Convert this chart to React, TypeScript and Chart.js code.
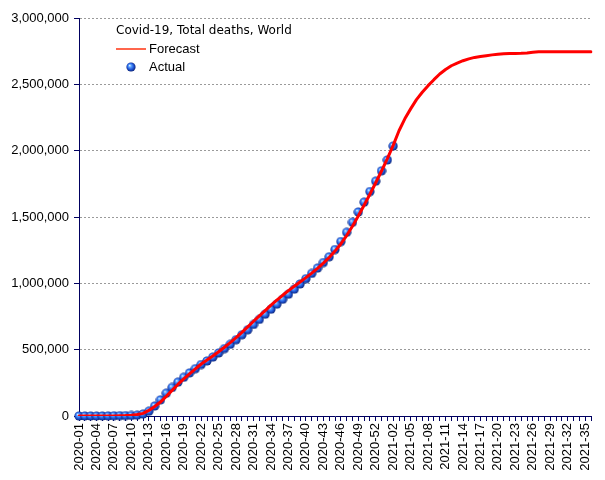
import { useEffect, useRef } from "react";
import { Chart, registerables } from "chart.js";

Chart.register(...registerables);

const TITLE = "Covid-19, Total deaths, World";
const FORECAST_LABEL = "Forecast";
const ACTUAL_LABEL = "Actual";

// ISO week categories: 2020-01 .. 2020-53, 2021-01 .. 2021-36
const weeks2020: number[] = Array.from({ length: 53 }, (_, i) => i + 1);
const weeks2021: number[] = Array.from({ length: 36 }, (_, i) => i + 1);
const pad2 = (n: number) => (n < 10 ? "0" + n : String(n));
const weekLabels: string[] = [
  ...weeks2020.map((w) => "2020-" + pad2(w)),
  ...weeks2021.map((w) => "2021-" + pad2(w)),
];

// Actual cumulative deaths (2020-01 .. 2021-02)
const actualDeaths: number[] = [
  0, 0, 0, 100, 400, 900, 1700, 2500, 3000, 3800,
  6500, 15000, 36000, 75000, 122000, 172000, 215000, 255000, 292000, 325000,
  357000, 388000, 415000, 444000, 475000, 508000, 540000, 575000, 612000, 650000,
  690000, 728000, 767000, 805000, 843000, 880000, 918000, 956000, 995000, 1035000,
  1075000, 1115000, 1157000, 1200000, 1255000, 1315000, 1385000, 1460000, 1538000, 1612000,
  1692000, 1770000, 1848000, 1930000, 2035000,
];

// Forecast cumulative deaths (2020-01 .. 2021-36)
const forecastDeaths: number[] = [
  0, 0, 0, 0, 0, 0, 500, 1500, 3000, 6000,
  11000, 20000, 42000, 72000, 105000, 148000, 193000, 238000, 280000, 318000,
  355000, 392000, 422000, 452000, 484000, 518000, 553000, 590000, 630000, 672000,
  714000, 755000, 795000, 835000, 873000, 910000, 945000, 978000, 1010000, 1043000,
  1077000, 1113000, 1152000, 1195000, 1243000, 1297000, 1360000, 1430000, 1507000, 1588000,
  1672000, 1758000, 1847000, 1940000, 2040000, 2150000, 2240000, 2315000, 2385000, 2440000,
  2490000, 2535000, 2578000, 2612000, 2640000, 2660000, 2678000, 2692000, 2703000, 2710000,
  2716000, 2722000, 2727000, 2731000, 2733000, 2733000, 2734000, 2736000, 2741000, 2745000,
  2745000, 2745000, 2745000, 2745000, 2745000, 2745000, 2745000, 2745000, 2745000,
];

const yTicks: number[] = [0, 500000, 1000000, 1500000, 2000000, 2500000, 3000000];

const NAVY = "#000060";

function makeSphere(): HTMLCanvasElement {
  const c = document.createElement("canvas");
  c.width = 10;
  c.height = 10;
  const g = c.getContext("2d")!;
  const grad = g.createRadialGradient(3.6, 3.4, 0.2, 5, 5, 5.2);
  grad.addColorStop(0, "#d8eeff");
  grad.addColorStop(0.25, "#5aa0ff");
  grad.addColorStop(0.6, "#1f55d6");
  grad.addColorStop(1, "#04145a");
  g.fillStyle = grad;
  g.beginPath();
  g.arc(5, 5, 4.6, 0, Math.PI * 2);
  g.fill();
  return c;
}

export default function App() {
  const ref = useRef<HTMLCanvasElement | null>(null);

  useEffect(() => {
    document.body.style.margin = "0";
    const canvas = ref.current;
    if (!canvas) return;
    const sphere = makeSphere();

    const legendPlugin = {
      id: "insideLegend",
      afterDraw(chart: any) {
        const ctx = chart.ctx as CanvasRenderingContext2D;
        ctx.save();
        ctx.fillStyle = "#000";
        ctx.textBaseline = "middle";
        ctx.textAlign = "left";
        ctx.font = "12px 'DejaVu Sans'";
        ctx.fillText(TITLE, 116, 31);
        ctx.strokeStyle = "#ff3311";
        ctx.lineWidth = 1.5;
        ctx.beginPath();
        ctx.moveTo(116, 49);
        ctx.lineTo(146, 49);
        ctx.stroke();
        ctx.font = "13px 'Liberation Sans'";
        ctx.fillText(FORECAST_LABEL, 149, 49.5);
        ctx.drawImage(sphere, 126, 62);
        ctx.fillText(ACTUAL_LABEL, 149, 67.5);
        ctx.restore();
      },
    };

    const chart = new Chart(canvas, {
      type: "line",
      data: {
        labels: weekLabels,
        datasets: [
          {
            label: FORECAST_LABEL,
            data: forecastDeaths,
            borderColor: "#ff0000",
            backgroundColor: "#ff0000",
            borderWidth: 3,
            pointRadius: 0,
            tension: 0,
            borderJoinStyle: "round",
            borderCapStyle: "round",
            order: 0,
          },
          {
            label: ACTUAL_LABEL,
            data: actualDeaths,
            showLine: false,
            pointStyle: sphere as any,
            pointRadius: 5,
            clip: false as any,
            order: 1,
          },
        ],
      },
      options: {
        responsive: false,
        animation: false,
        layout: { padding: { top: 18, right: 14, left: 0, bottom: 0 } },
        plugins: {
          legend: { display: false },
          tooltip: { enabled: false },
        },
        scales: {
          x: {
            type: "category",
            grid: {
              drawOnChartArea: false,
              drawTicks: true,
              tickLength: 5,
              color: NAVY,
              tickColor: NAVY,
            },
            border: { color: NAVY, width: 1 },
            ticks: {
              autoSkip: false,
              maxRotation: 90,
              minRotation: 90,
              padding: 2,
              color: "#000",
              font: { family: "'Liberation Sans'", size: 13 },
              callback: (_v: any, i: number) => (i % 3 === 0 ? weekLabels[i] : ""),
            },
            afterFit: (s: any) => {
              s.height = 64;
              s.paddingLeft = 0;
              s.paddingRight = 0;
            },
          },
          y: {
            min: yTicks[0],
            max: yTicks[yTicks.length - 1],
            afterBuildTicks: (s: any) => {
              s.ticks = yTicks.map((v) => ({ value: v }));
            },
            grid: {
              color: (c: any) => (c.tick && c.tick.value === 0 ? "rgba(0,0,0,0)" : "#9a9a9a"),
              tickColor: NAVY,
              tickLength: 5,
              lineWidth: 1,
            },
            border: { color: NAVY, width: 1, dash: [2, 2] },
            ticks: {
              padding: 5,
              color: "#000",
              font: { family: "'Liberation Sans'", size: 13 },
              callback: (v: any) => Number(v).toLocaleString("en-US"),
            },
            afterFit: (s: any) => {
              s.width = 79;
            },
          },
        },
      },
      plugins: [legendPlugin],
    });

    return () => chart.destroy();
  }, []);

  return (
    <div style={{ position: "absolute", left: 0, top: 0, width: 605, height: 480, background: "#fff" }}>
      <canvas ref={ref} width={605} height={480} />
    </div>
  );
}
